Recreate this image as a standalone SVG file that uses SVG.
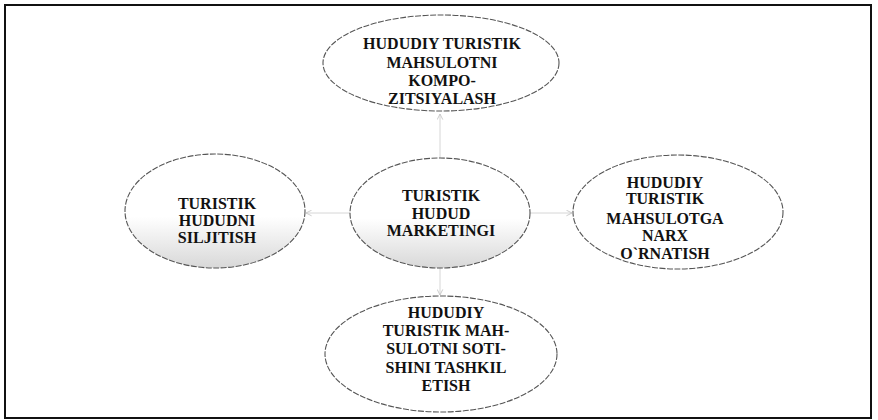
<svg xmlns="http://www.w3.org/2000/svg" width="878" height="420" viewBox="0 0 878 420">
<defs>
<style>
.frame{fill:none;stroke:#111;stroke-width:2}
.node ellipse{fill:#fff;stroke:#555;stroke-width:1.1;stroke-dasharray:6 1.5}
.node ellipse.shade{fill:url(#shade)}
.node text{font-family:"Liberation Serif","Times New Roman",serif;font-weight:bold;font-size:16px;fill:#111;text-anchor:middle}
.conn{stroke:#d6d6d6;stroke-width:1;fill:none;marker-end:url(#ah)}
</style>
<linearGradient id="shade" x1="0" y1="0" x2="0" y2="1">
<stop offset="0.55" stop-color="#fff"/>
<stop offset="1" stop-color="#d8d8d8"/>
</linearGradient>
<marker id="ah" viewBox="0 0 10 10" refX="9" refY="5" markerWidth="7" markerHeight="7" orient="auto">
<path d="M1,1 L9,5 L1,9" fill="none" stroke="#c4c4c4" stroke-width="1.2"/>
</marker>
</defs>
<rect class="frame" x="5" y="5" width="866" height="413"/>
<g id="connectors">
<line class="conn" x1="440" y1="158" x2="440" y2="114"/>
<line class="conn" x1="350" y1="213" x2="306" y2="213"/>
<line class="conn" x1="530" y1="213" x2="572" y2="213"/>
<line class="conn" x1="440" y1="268" x2="440" y2="295"/>
</g>
<g id="node-top" class="node">
<ellipse cx="441" cy="63" rx="118" ry="48"/>
<text x="442" y="49">HUDUDIY TURISTIK</text>
<text x="442" y="68">MAHSULOTNI</text>
<text x="442" y="86">KOMPO-</text>
<text x="442" y="104">ZITSIYALASH</text>
</g>
<g id="node-center" class="node">
<ellipse class="shade" cx="440" cy="213" rx="90" ry="55"/>
<text x="441" y="201">TURISTIK</text>
<text x="441" y="219">HUDUD</text>
<text x="441" y="236">MARKETINGI</text>
</g>
<g id="node-left" class="node">
<ellipse class="shade" cx="215" cy="211" rx="90" ry="57"/>
<text x="217" y="209">TURISTIK</text>
<text x="217" y="226">HUDUDNI</text>
<text x="217" y="243">SILJITISH</text>
</g>
<g id="node-right" class="node">
<ellipse cx="678" cy="212" rx="105" ry="57"/>
<text x="665" y="188">HUDUDIY</text>
<text x="665" y="204">TURISTIK</text>
<text x="665" y="224">MAHSULOTGA</text>
<text x="665" y="241">NARX</text>
<text x="665" y="259">O`RNATISH</text>
</g>
<g id="node-bottom" class="node">
<ellipse cx="441" cy="354" rx="116" ry="58"/>
<text x="446" y="318">HUDUDIY</text>
<text x="446" y="336">TURISTIK MAH-</text>
<text x="446" y="354">SULOTNI SOTI-</text>
<text x="446" y="373">SHINI TASHKIL</text>
<text x="446" y="391">ETISH</text>
</g>
</svg>
